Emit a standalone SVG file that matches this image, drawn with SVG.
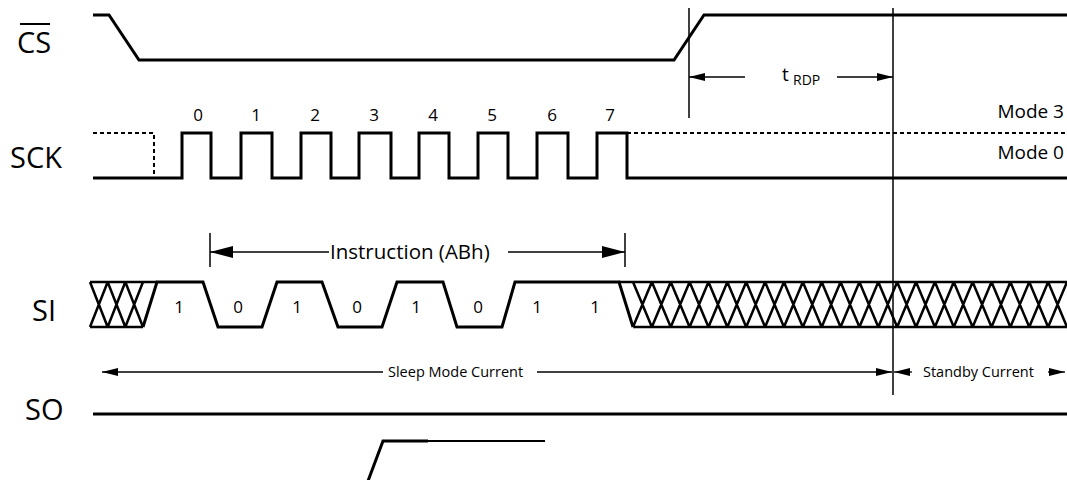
<svg xmlns="http://www.w3.org/2000/svg" width="1067" height="480" viewBox="0 0 1067 480">
<style>
.t{font-family:"Open Sans","Liberation Sans",sans-serif;fill:#000}
.lab{font-size:29px}
.num{font-size:17px;text-anchor:middle}
.sm{font-size:14.5px}
.w{fill:none;stroke:#000;stroke-width:3;stroke-linejoin:miter}
.d{fill:none;stroke:#000;stroke-width:2;stroke-dasharray:4 3}
.h{fill:none;stroke:#000;stroke-width:2.5}
.v{fill:none;stroke:#000;stroke-width:1.5}
.a{fill:none;stroke:#000;stroke-width:1.3}
</style>
<defs>
<marker id="ah" viewBox="0 0 16 8" refX="16" refY="4" markerWidth="16" markerHeight="8" markerUnits="userSpaceOnUse" orient="auto-start-reverse"><path d="M0,0 L16,4 L0,8 z" fill="#000"/></marker>
<marker id="ahb" viewBox="0 0 23 12" refX="23" refY="6" markerWidth="23" markerHeight="12" markerUnits="userSpaceOnUse" orient="auto-start-reverse"><path d="M0,0 L23,6 L0,12 z" fill="#000"/></marker>
</defs>

<g id="cs">
<text class="t lab" x="17" y="53">CS</text>
<line x1="20" y1="24" x2="50" y2="24" stroke="#000" stroke-width="2"/>
<path class="w" d="M93,15 H109 L139,60 H674 L704,15 H1067"/>
</g>

<g id="sck">
<text class="t lab" x="10" y="168">SCK</text>
<path class="d" d="M93,133 H154 V178 M627,133 H1067"/>
<path class="w" d="M93,178 H182 V133 H211 V178 H241 V133 H272 V178 H301 V133 H331 V178 H359 V133 H391 V178 H419 V133 H449 V178 H478 V133 H508 V178 H537 V133 H568 V178 H597 V133 H627 V178 H1067"/>
<g class="t num">
<text x="198" y="121">0</text><text x="256" y="121">1</text><text x="315" y="121">2</text><text x="374" y="121">3</text>
<text x="433" y="121">4</text><text x="492" y="121">5</text><text x="552" y="121">6</text><text x="610" y="121">7</text>
</g>
<text class="t" x="1064" y="118" font-size="19" text-anchor="end">Mode 3</text>
<text class="t" x="1064" y="159" font-size="19" text-anchor="end">Mode 0</text>
</g>

<g id="si">
<text class="t lab" x="32" y="321">SI</text>
<path class="w" d="M143,327 L157,282 H203 L218,327 H262 L277,282 H322 L338,327 H382 L397,282 H443 L457,327 H502 L515,282 H619 L633,327"/>
<path class="h" d="M90,282 H157 M90,327 H143 M90,282 L107.67,327 M107.67,282 L90,327 M107.67,282 L125.33,327 M125.33,282 L107.67,327 M125.33,282 L143,327 M143,282 L125.33,327"/>
<path class="h" d="M619,282 H1067 M633,327 H1067
M633,282 L651.87,327 M651.87,282 L633,327
M651.87,282 L670.74,327 M670.74,282 L651.87,327
M670.74,282 L689.61,327 M689.61,282 L670.74,327
M689.61,282 L708.48,327 M708.48,282 L689.61,327
M708.48,282 L727.35,327 M727.35,282 L708.48,327
M727.35,282 L746.22,327 M746.22,282 L727.35,327
M746.22,282 L765.09,327 M765.09,282 L746.22,327
M765.09,282 L783.96,327 M783.96,282 L765.09,327
M783.96,282 L802.83,327 M802.83,282 L783.96,327
M802.83,282 L821.70,327 M821.70,282 L802.83,327
M821.70,282 L840.57,327 M840.57,282 L821.70,327
M840.57,282 L859.43,327 M859.43,282 L840.57,327
M859.43,282 L878.30,327 M878.30,282 L859.43,327
M878.30,282 L897.17,327 M897.17,282 L878.30,327
M897.17,282 L916.04,327 M916.04,282 L897.17,327
M916.04,282 L934.91,327 M934.91,282 L916.04,327
M934.91,282 L953.78,327 M953.78,282 L934.91,327
M953.78,282 L972.65,327 M972.65,282 L953.78,327
M972.65,282 L991.52,327 M991.52,282 L972.65,327
M991.52,282 L1010.39,327 M1010.39,282 L991.52,327
M1010.39,282 L1029.26,327 M1029.26,282 L1010.39,327
M1029.26,282 L1048.13,327 M1048.13,282 L1029.26,327
M1048.13,282 L1067,327 M1067,282 L1048.13,327"/>
<g class="t num">
<text x="179" y="313">1</text><text x="238" y="313">0</text><text x="297" y="313">1</text><text x="357" y="313">0</text>
<text x="416" y="313">1</text><text x="478" y="313">0</text><text x="537" y="313">1</text><text x="595" y="313">1</text>
</g>
</g>

<g id="so">
<text class="t lab" x="25" y="420">SO</text>
<path class="w" d="M93,414 H1067"/>
</g>

<g id="fragment">
<path class="w" d="M368,481 L383,441 H428"/>
<path d="M428,441 H545" fill="none" stroke="#000" stroke-width="2"/>
</g>

<g id="connectors">
<line class="v" x1="689" y1="8" x2="689" y2="118"/>
<line class="v" x1="893" y1="8" x2="893" y2="395"/>
<line class="v" x1="210" y1="233" x2="210" y2="267"/>
<line class="v" x1="625" y1="233" x2="625" y2="267"/>
<line class="a" x1="329" y1="252" x2="210" y2="252" marker-end="url(#ahb)"/>
<line class="a" x1="508" y1="252" x2="625" y2="252" marker-end="url(#ahb)"/>
<line class="a" x1="745" y1="77" x2="689" y2="77" marker-end="url(#ah)"/>
<line class="a" x1="837" y1="77" x2="893" y2="77" marker-end="url(#ah)"/>
<line class="a" x1="383" y1="372" x2="102" y2="372" marker-end="url(#ah)"/>
<line class="a" x1="537" y1="372" x2="892" y2="372" marker-end="url(#ah)"/>
<line class="a" x1="912" y1="372" x2="894" y2="372" marker-end="url(#ah)"/>
<line class="a" x1="1048" y1="372" x2="1065" y2="372" marker-end="url(#ah)"/>
</g>

<g id="labels">
<text class="t" x="330" y="259" font-size="20.5">Instruction (ABh)</text>
<text class="t" x="782" y="81" font-size="19">t</text>
<text class="t" x="793" y="85" font-size="14">RDP</text>
<text class="t sm" x="388" y="377">Sleep Mode Current</text>
<text class="t sm" x="923" y="377">Standby Current</text>
</g>
</svg>
